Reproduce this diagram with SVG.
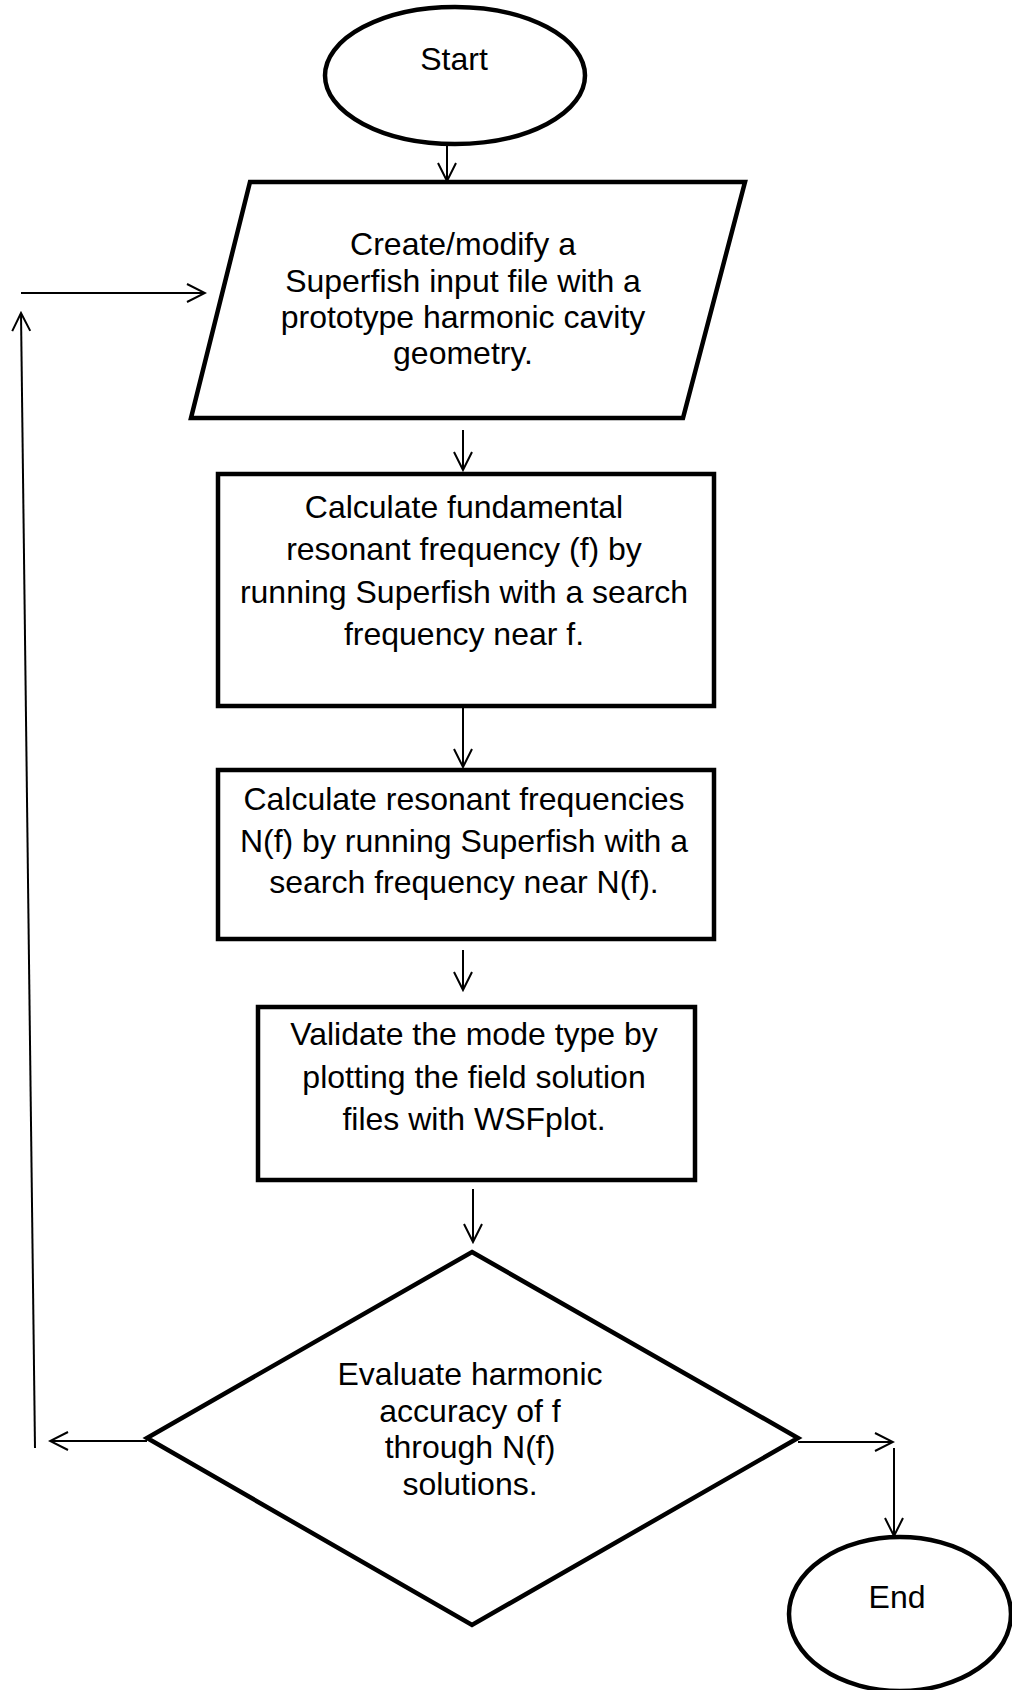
<svg xmlns="http://www.w3.org/2000/svg" width="1012" height="1690" viewBox="0 0 1012 1690">
<style>
.shape{fill:#fff;stroke:#000;stroke-width:4.5;stroke-linejoin:miter}
.conn{fill:none;stroke:#000;stroke-width:2}
.lbl{font-family:"Liberation Sans",Arial,sans-serif;font-size:32px;fill:#000;text-anchor:middle}
</style>
<defs>
<marker id="arr" viewBox="-20 -11 22 22" refX="0" refY="0" markerWidth="22" markerHeight="22" markerUnits="userSpaceOnUse" orient="auto">
<path d="M-18,-9 L0,0 L-18,9" fill="none" stroke="#000" stroke-width="2"/>
</marker>
</defs>
<rect width="1012" height="1690" fill="#fff"/>
<g id="connectors">
<line class="conn" x1="447" y1="145" x2="447" y2="181" marker-end="url(#arr)"/>
<line class="conn" x1="463" y1="430" x2="463" y2="470" marker-end="url(#arr)"/>
<line class="conn" x1="463" y1="707" x2="463" y2="767" marker-end="url(#arr)"/>
<line class="conn" x1="463" y1="950" x2="463" y2="990" marker-end="url(#arr)"/>
<line class="conn" x1="473" y1="1189" x2="473" y2="1242" marker-end="url(#arr)"/>
<line class="conn" x1="147" y1="1441" x2="50" y2="1441" marker-end="url(#arr)"/>
<line class="conn" x1="35" y1="1448" x2="21" y2="313" marker-end="url(#arr)"/>
<line class="conn" x1="21" y1="293" x2="205" y2="293" marker-end="url(#arr)"/>
<line class="conn" x1="798" y1="1442" x2="893" y2="1442" marker-end="url(#arr)"/>
<line class="conn" x1="894" y1="1448" x2="894" y2="1536" marker-end="url(#arr)"/>
</g>
<g id="start">
<ellipse class="shape" cx="455" cy="75.5" rx="130" ry="68.5"/>
<text class="lbl" x="454" y="70">Start</text>
</g>
<g id="create">
<polygon class="shape" points="250,182 745,182 683,418 191,418"/>
<text class="lbl" x="463" y="255">Create/modify a</text>
<text class="lbl" x="463" y="292">Superfish input file with a</text>
<text class="lbl" x="463" y="328">prototype harmonic cavity</text>
<text class="lbl" x="463" y="364">geometry.</text>
</g>
<g id="fundamental">
<rect class="shape" x="218" y="474" width="496" height="232"/>
<text class="lbl" x="464" y="518">Calculate fundamental</text>
<text class="lbl" x="464" y="560">resonant frequency (f) by</text>
<text class="lbl" x="464" y="603">running Superfish with a search</text>
<text class="lbl" x="464" y="645">frequency near f.</text>
</g>
<g id="harmonics">
<rect class="shape" x="218" y="770" width="496" height="169"/>
<text class="lbl" x="464" y="810">Calculate resonant frequencies</text>
<text class="lbl" x="464" y="852">N(f) by running Superfish with a</text>
<text class="lbl" x="464" y="893">search frequency near N(f).</text>
</g>
<g id="validate">
<rect class="shape" x="258" y="1007" width="437" height="173"/>
<text class="lbl" x="474" y="1045">Validate the mode type by</text>
<text class="lbl" x="474" y="1088">plotting the field solution</text>
<text class="lbl" x="474" y="1130">files with WSFplot.</text>
</g>
<g id="evaluate">
<polygon class="shape" points="472,1252 798,1438 472,1625 147,1438"/>
<text class="lbl" x="470" y="1385">Evaluate harmonic</text>
<text class="lbl" x="470" y="1422">accuracy of f</text>
<text class="lbl" x="470" y="1458">through N(f)</text>
<text class="lbl" x="470" y="1495">solutions.</text>
</g>
<g id="end">
<ellipse class="shape" cx="900" cy="1614" rx="111" ry="77"/>
<text class="lbl" x="897" y="1608">End</text>
</g>
</svg>
